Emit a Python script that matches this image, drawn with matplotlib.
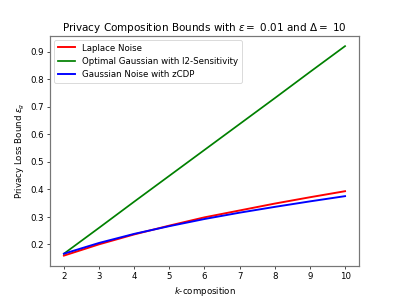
import numpy as np
import matplotlib
matplotlib.use("Agg")
import matplotlib.pyplot as plt

# k-composition steps
k_values = [2, 3, 4, 5, 6, 7, 8, 9, 10]

# bounds
laplace_bound = [0.159, 0.200, 0.236, 0.268, 0.298, 0.323, 0.348, 0.371, 0.393]
optimal_gauss_bound = [0.166, 0.260, 0.355, 0.449, 0.543, 0.637, 0.731, 0.826, 0.920]
zcdp_bound = [0.166, 0.205, 0.238, 0.266, 0.292, 0.315, 0.336, 0.356, 0.375]

epsilon = 0.01
delta = 10

fig, ax = plt.subplots(figsize=(6.4, 4.8), dpi=399 / 6.4)
ax.plot(k_values, laplace_bound, color="red", lw=2.2, label="Laplace Noise")
ax.plot(k_values, optimal_gauss_bound, color="green", lw=2.0, label="Optimal Gaussian with l2-Sensitivity")
ax.plot(k_values, zcdp_bound, color="blue", lw=2.2, label="Gaussian Noise with zCDP")

ax.set_title(r"Privacy Composition Bounds with $\epsilon = $ " + str(epsilon)
             + r" and $\Delta = $ " + str(delta))
ax.set_xlabel(r"$k$-composition")
ax.set_ylabel(r"Privacy Loss Bound $\epsilon_g$")
ax.legend(loc="upper left")

# spines look greyish and a bit heavier in the reference
for sp in ax.spines.values():
    sp.set_linewidth(1.4)
    sp.set_color("#777777")
ax.tick_params(width=1.0, color="#333333")

fig.savefig("out.png")
